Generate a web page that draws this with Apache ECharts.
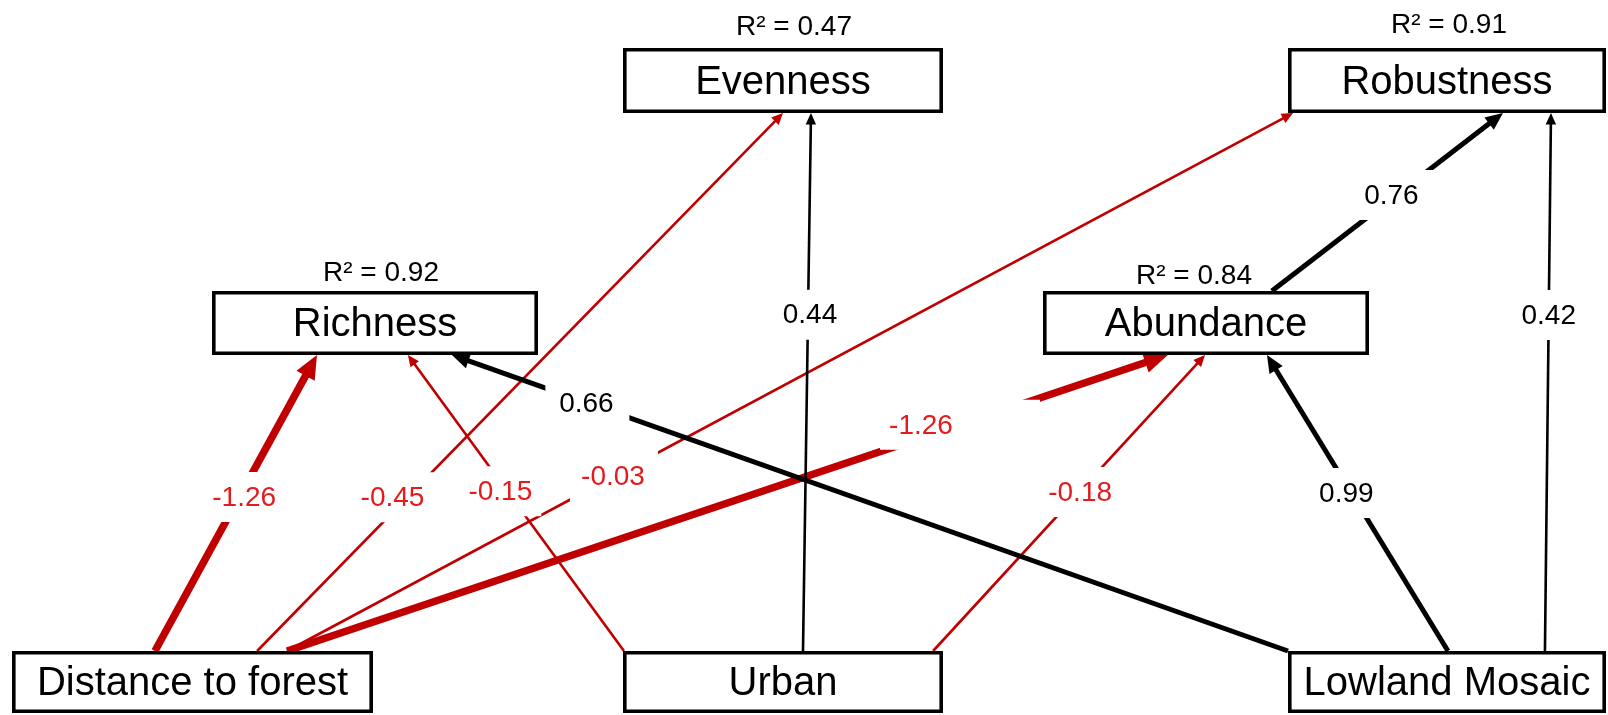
<!DOCTYPE html>
<html>
<head>
<meta charset="utf-8">
<title>Path model</title>
<script src="https://cdn.jsdelivr.net/npm/echarts@6/dist/echarts.min.js"></script>
<style>
  html, body { margin: 0; padding: 0; background: #ffffff; }
  #chart { width: 1608px; height: 715px; }
</style>
</head>
<body>
<div id="chart"></div>
<script>
// ---- Model data: variables, explained variance, path coefficients ----
const variables = ['Richness', 'Evenness', 'Abundance', 'Robustness', 'Distance to forest', 'Urban', 'Lowland Mosaic'];
const rSquared  = [0.92, 0.47, 0.84, 0.91, null, null, null];

const pathFrom = ['Distance to forest', 'Distance to forest', 'Urban', 'Distance to forest', 'Distance to forest',
                  'Urban', 'Urban', 'Lowland Mosaic', 'Lowland Mosaic', 'Lowland Mosaic', 'Abundance'];
const pathTo   = ['Richness', 'Evenness', 'Richness', 'Robustness', 'Abundance',
                  'Evenness', 'Abundance', 'Richness', 'Abundance', 'Robustness', 'Robustness'];
const pathCoef = [-1.26, -0.45, -0.15, -0.03, -1.26, 0.44, -0.18, 0.66, 0.99, 0.42, 0.76];

// ---- Layout (diagram units = pixels of a 1608 x 715 canvas) ----
// box: [left, top, right, bottom]
const boxLayout = {
  'Richness':           [212, 291, 538, 355],
  'Evenness':           [623,  48, 943, 113],
  'Abundance':          [1043, 291, 1369, 355],
  'Robustness':         [1288, 48, 1606, 113],
  'Distance to forest': [12,  651, 373, 713],
  'Urban':              [623, 651, 943, 713],
  'Lowland Mosaic':     [1288, 651, 1606, 713]
};
// centre of each R² caption
const r2Layout = {
  'Richness':   [381, 272],
  'Evenness':   [794, 26],
  'Abundance':  [1194, 275],
  'Robustness': [1449, 24]
};
// per path: [anchor fraction on source top edge, anchor fraction on target bottom edge]
const pathAnchors = [
  [0.396, 0.322], [0.679, 0.500], [0.003, 0.601], [0.762, 0.016], [0.762, 0.383], [0.5625, 0.5875],
  [0.969, 0.497], [0.000, 0.736], [0.503, 0.687], [0.808, 0.827], [0.702, 0.676]
];
// per path label: [position along path (0 = source, 1 = arrow tip), text x shift, half width of the clear band]
const labelLayout = [
  [0.520, 5, 40], [0.286, -15, 40], [0.540, -7, 34], [0.325, -1, 44], [0.764, -39, 80], [0.625, 2, 40],
  [0.537, 1, 40], [0.838, -1, 42], [0.534, -5, 40], [0.6245, 0, 40], [0.539, -5, 40]
];

const FONT = '"Liberation Sans", Arial, Helvetica, sans-serif';
const RED_LINE = '#C00000';
const RED_TEXT = '#E41A1C';

function lineWidthFor(c) {
  const a = Math.abs(c);
  if (a >= 1) return 7.5;
  if (a >= 0.6) return 5;
  return 2.6;
}

// endpoints of a path in diagram units
function pathEnds(i) {
  const s = boxLayout[pathFrom[i]], d = boxLayout[pathTo[i]];
  const a = pathAnchors[i];
  return [
    [s[0] + a[0] * (s[2] - s[0]), s[1]],
    [d[0] + a[1] * (d[2] - d[0]), d[3]]
  ];
}

const chart = echarts.init(document.getElementById('chart'), null, { renderer: 'canvas' });

const option = {
  backgroundColor: '#ffffff',
  animation: false,
  grid: { left: 0, right: 0, top: 0, bottom: 0 },
  xAxis: { type: 'value', min: 0, max: 1608, show: false },
  yAxis: { type: 'value', min: 0, max: 715, inverse: true, show: false },
  series: [
    {
      // arrows
      type: 'custom',
      z: 1,
      data: pathCoef.map((c, i) => [i, c]),
      renderItem: function (params, api) {
        const i = api.value(0);
        const c = api.value(1);
        const ends = pathEnds(i);
        const S = api.coord(ends[0]);
        const E = api.coord(ends[1]);
        const w = lineWidthFor(c);
        const color = c < 0 ? RED_LINE : '#000000';
        const dx = E[0] - S[0], dy = E[1] - S[1];
        const len = Math.sqrt(dx * dx + dy * dy);
        const ux = dx / len, uy = dy / len;
        const headLen = 5 + 2.5 * w;
        const headHalf = (3 + 2.1 * w) / 2 + 1;
        const bx = E[0] - ux * headLen, by = E[1] - uy * headLen;
        const lx = E[0] - ux * (headLen * 0.8), ly = E[1] - uy * (headLen * 0.8);
        return {
          type: 'group',
          children: [
            {
              type: 'line',
              shape: { x1: S[0], y1: S[1], x2: lx, y2: ly },
              style: { stroke: color, lineWidth: w, lineCap: 'butt' }
            },
            {
              type: 'polygon',
              shape: { points: [
                [E[0], E[1]],
                [bx - uy * headHalf, by + ux * headHalf],
                [bx + uy * headHalf, by - ux * headHalf]
              ] },
              style: { fill: color }
            }
          ]
        };
      }
    },
    {
      // coefficient labels on a clear band across their own path
      type: 'custom',
      z: 2,
      data: pathCoef.map((c, i) => [i, c]),
      renderItem: function (params, api) {
        const i = api.value(0);
        const c = api.value(1);
        const ends = pathEnds(i);
        const L = labelLayout[i];
        const t = L[0];
        const mid = api.coord([
          ends[0][0] + t * (ends[1][0] - ends[0][0]),
          ends[0][1] + t * (ends[1][1] - ends[0][1])
        ]);
        const hw = L[2], hh = 25;
        return {
          type: 'group',
          children: [
            {
              type: 'rect',
              shape: { x: mid[0] - hw, y: mid[1] - hh, width: hw * 2, height: hh * 2 },
              style: { fill: '#ffffff' }
            },
            {
              type: 'text',
              x: mid[0] + L[1],
              y: mid[1] + 1,
              style: {
                text: c.toFixed(2),
                fill: c < 0 ? RED_TEXT : '#000000',
                font: '28px ' + FONT,
                align: 'center',
                verticalAlign: 'middle'
              }
            }
          ]
        };
      }
    },
    {
      // variable boxes
      type: 'custom',
      z: 3,
      data: variables.map((v, i) => [i]),
      renderItem: function (params, api) {
        const name = variables[api.value(0)];
        const b = boxLayout[name];
        const p0 = api.coord([b[0], b[1]]);
        const p1 = api.coord([b[2], b[3]]);
        const sw = 3.6;
        return {
          type: 'group',
          children: [
            {
              type: 'rect',
              shape: { x: p0[0] + sw / 2, y: p0[1] + sw / 2, width: p1[0] - p0[0] - sw, height: p1[1] - p0[1] - sw },
              style: { fill: '#ffffff', stroke: '#000000', lineWidth: sw }
            },
            {
              type: 'text',
              x: (p0[0] + p1[0]) / 2,
              y: (p0[1] + p1[1]) / 2 + 2,
              style: {
                text: name,
                fill: '#000000',
                font: '40px ' + FONT,
                align: 'center',
                verticalAlign: 'middle'
              }
            }
          ]
        };
      }
    },
    {
      // explained variance captions
      type: 'custom',
      z: 3,
      data: variables.map((v, i) => [i, rSquared[i]]).filter(d => d[1] !== null),
      renderItem: function (params, api) {
        const name = variables[api.value(0)];
        const r2 = api.value(1);
        const p = api.coord(r2Layout[name]);
        return {
          type: 'text',
          x: p[0],
          y: p[1] + 1,
          style: {
            text: 'R\u00B2 = ' + r2.toFixed(2),
            fill: '#000000',
            font: '28px ' + FONT,
            align: 'center',
            verticalAlign: 'middle'
          }
        };
      }
    }
  ]
};

chart.setOption(option);
</script>
</body>
</html>
